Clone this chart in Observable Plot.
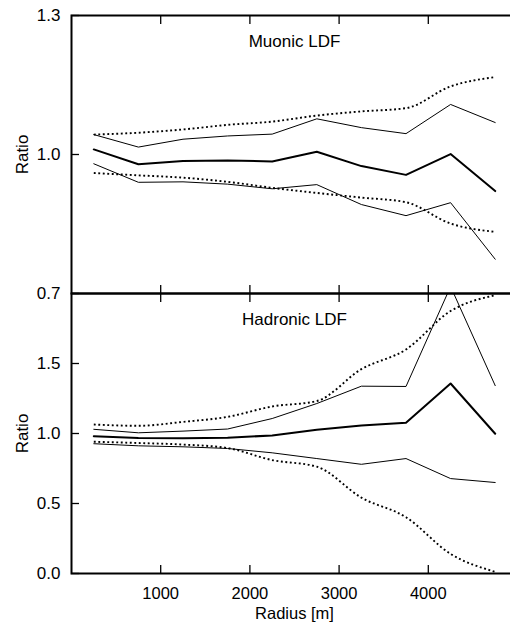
<!DOCTYPE html>
<html>
<head>
<meta charset="utf-8">
<script src="https://cdn.jsdelivr.net/npm/d3@7"></script>
<script src="https://cdn.jsdelivr.net/npm/@observablehq/plot@0.6"></script>
<style>
  html, body { margin: 0; padding: 0; background: white; }
  #chart { position: relative; width: 510px; height: 627px; overflow: hidden; background: white; }
  #chart > div { position: absolute; left: 0; }
</style>
</head>
<body>
<div id="chart"><div id="top"></div><div id="bottom"></div></div>
<script>
// ---- data ----
const radius = [250, 750, 1250, 1750, 2250, 2750, 3250, 3750, 4250, 4750];
const xTicks = [1000, 2000, 3000, 4000];

// Muonic LDF
const muMean   = [1.011, 0.979, 0.986, 0.987, 0.985, 1.006, 0.975, 0.956, 1.001, 0.921];
const muUp     = [1.043, 1.016, 1.033, 1.040, 1.044, 1.077, 1.058, 1.045, 1.108, 1.069];
const muLow    = [0.980, 0.940, 0.941, 0.936, 0.926, 0.935, 0.892, 0.868, 0.896, 0.774];
const muDotUp  = [1.043, 1.047, 1.054, 1.064, 1.071, 1.084, 1.093, 1.100, 1.147, 1.167];
const muDotLow = [0.960, 0.955, 0.950, 0.941, 0.928, 0.917, 0.907, 0.897, 0.851, 0.833];
const muTicks  = [0.7, 1.0, 1.3];

// Hadronic LDF
const haMean   = [0.981, 0.968, 0.966, 0.970, 0.986, 1.027, 1.057, 1.077, 1.357, 0.998];
const haUp     = [1.030, 1.005, 1.017, 1.032, 1.107, 1.214, 1.338, 1.336, 2.050, 1.342];
const haLow    = [0.927, 0.912, 0.905, 0.893, 0.862, 0.821, 0.780, 0.821, 0.678, 0.650];
const haDotUp  = [1.064, 1.055, 1.083, 1.119, 1.193, 1.232, 1.460, 1.600, 1.875, 1.988];
const haDotLow = [0.941, 0.932, 0.921, 0.896, 0.810, 0.763, 0.542, 0.402, 0.140, 0.012];
const haTicks  = [0.0, 0.5, 1.0, 1.5];

const font = "'Liberation Sans', Arial, Helvetica, sans-serif";
const toRows = (vals) => radius.map((r, i) => ({r, v: vals[i]}));

function panel({title, mean, up, low, dotUp, dotLow, yDomain, yTicks, marginTop, marginBottom, height, bottomLabels}) {
  const thin = {x: "r", y: "v", stroke: "black", strokeWidth: 1, clip: true};
  const dotted = {x: "r", y: "v", stroke: "black", strokeWidth: 1.9, strokeDasharray: "1.9,2.6", strokeLinecap: "butt", curve: "monotone-x", clip: true};
  return Plot.plot({
    width: 517,
    height,
    marginLeft: 71,
    marginRight: 0,
    marginTop,
    marginBottom,
    style: {fontFamily: font, fontSize: "16.5px", color: "black", background: "transparent", maxWidth: "none"},
    x: {domain: [0, 5000]},
    y: {domain: yDomain},
    marks: [
      Plot.line(toRows(dotUp), dotted),
      Plot.line(toRows(dotLow), dotted),
      Plot.line(toRows(up), thin),
      Plot.line(toRows(low), thin),
      Plot.line(toRows(mean), {x: "r", y: "v", stroke: "black", strokeWidth: 2, clip: true}),
      // inward tick marks
      Plot.axisX(xTicks, {anchor: "top", tickSize: 8, dy: 8, fill: "none", label: null, strokeWidth: 1.3}),
      Plot.axisX(xTicks, {anchor: "bottom", tickSize: 8, dy: -8, fill: "none", label: null, strokeWidth: 1.3}),
      Plot.axisY(yTicks, {anchor: "left", tickSize: 8, dx: 8, fill: "none", label: null, strokeWidth: 1.3}),
      // tick labels
      Plot.axisY(yTicks, {anchor: "left", tickSize: 0, tickPadding: 11, tickFormat: d3.format(".1f"),
        label: "Ratio", labelAnchor: "center", labelOffset: 56, labelArrow: "none", fontSize: 17}),
      bottomLabels
        ? Plot.axisX(xTicks, {anchor: "bottom", tickSize: 0, tickPadding: 14, tickFormat: d3.format("d"),
            label: "Radius [m]", labelAnchor: "center", labelOffset: 45, labelArrow: "none", fontSize: 16.5})
        : null,
      Plot.frame({stroke: "black", strokeWidth: 2}),
      Plot.text([title], {frameAnchor: "top", dy: 26.5, lineAnchor: "middle", fontSize: 17, fill: "black"})
    ]
  });
}

const topDiv = document.getElementById("top");
topDiv.style.top = "0px";
topDiv.append(panel({
  title: "Muonic LDF", mean: muMean, up: muUp, low: muLow, dotUp: muDotUp, dotLow: muDotLow,
  yDomain: [0.7, 1.3], yTicks: muTicks, marginTop: 15, marginBottom: 14, height: 307, bottomLabels: false
}));

const botDiv = document.getElementById("bottom");
botDiv.style.top = "280px";
botDiv.append(panel({
  title: "Hadronic LDF", mean: haMean, up: haUp, low: haLow, dotUp: haDotUp, dotLow: haDotLow,
  yDomain: [0, 2.0], yTicks: haTicks, marginTop: 13, marginBottom: 54, height: 347, bottomLabels: true
}));
</script>
</body>
</html>
